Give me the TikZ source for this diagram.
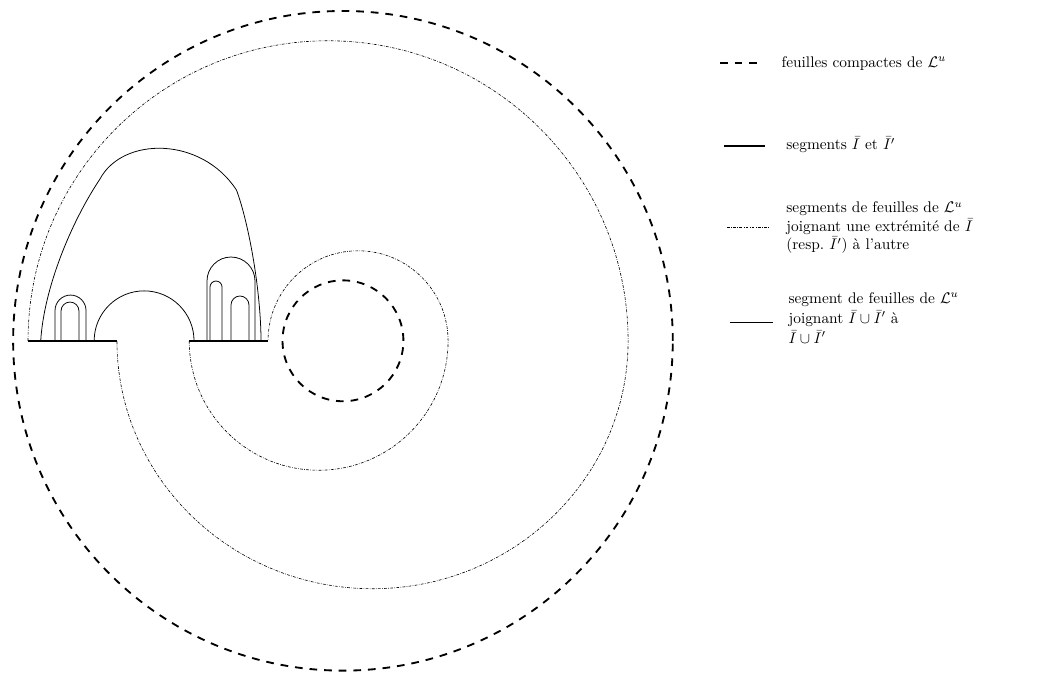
\documentclass[tikz,border=0pt]{standalone}
\usepackage{amsmath,amssymb}
\usepackage{tikz}
\usetikzlibrary{positioning,calc}
\tikzset{
  compact/.style={line width=1.2pt, dash pattern=on 5pt off 4.5pt},
  segbar/.style={line width=1.3pt},
  joinleaf/.style={line width=0.4pt, dash pattern=on 1.8pt off 0.9pt on 0.4pt off 0.9pt},
  leaf/.style={line width=0.5pt},
  legtext/.style={anchor=west, align=left},
}

\begin{document}
\begin{tikzpicture}
\useasboundingbox (0,0) rectangle (24.155,15.411);
% compact leaves
\draw[compact] (7.83,7.63) circle (7.53);
\draw[compact] (7.83,7.63) circle (1.38);
% segments I and I'
\coordinate (Ia) at (0.64,7.63);
\coordinate (Ib) at (2.67,7.63);
\coordinate (Jp) at (4.32,7.63);
\coordinate (Jq) at (6.12,7.63);
\draw[segbar] (Ia) -- (Ib);
\draw[segbar] (Jp) -- (Jq);
% leaves joining one end to the other
\draw[joinleaf] (Ia) arc[start angle=180, end angle=0, radius=6.85]
  arc[start angle=0, end angle=-180, x radius=5.835, y radius=5.66];
\draw[joinleaf] (Jp) arc[start angle=180, end angle=360, radius=2.955]
  arc[start angle=0, end angle=180, radius=2.055];
% leaves joining I u I' to itself
\draw[leaf] (0.93,7.63) .. controls (1.0,8.8) and (1.6,10.3) .. (2.28,11.32)
  .. controls (2.8,12.3) and (4.6,12.3) .. (5.40,11.07)
  .. controls (5.65,10.4) and (5.95,8.9) .. (5.96,7.63);
\draw[leaf] (2.15,7.63) arc[start angle=180, end angle=0, radius=1.14];
\foreach \x/\r/\h in {1.256/0.354/8.32, 1.393/0.205/8.31, 4.726/0.548/8.995, 4.795/0.137/8.858, 5.274/0.205/8.448}
  \draw[leaf] (\x,7.63) -- (\x,\h) arc[start angle=180, end angle=0, radius=\r] -- ({\x+2*\r},7.63);
% legend
\node[legtext] (legcompact) at (17.72,13.97) {feuilles compactes de $\mathcal{L}^u$};
\node[legtext] (legseg) at (17.83,12.10) {segments $\bar I$ et $\bar I'$};
\node[legtext] (legjoin) at (17.83,10.21) {segments de feuilles de $\mathcal{L}^u$\\ joignant une extrémité de $\bar I$\\ (resp.\ $\bar I'$) à l'autre};
\node[legtext] (legleaf) at (17.88,8.15) {segment de feuilles de $\mathcal{L}^u$\\[1pt] joignant $\bar I\cup\bar I'$ à\\[1pt] $\bar I\cup\bar I'$};
\draw[compact] (16.44,13.97) -- (17.31,13.97);
\draw[segbar] (16.53,12.08) -- (17.47,12.08);
\draw[joinleaf] (16.60,10.21) -- (17.58,10.21);
\draw[leaf] (16.67,8.06) -- (17.65,8.06);
\end{tikzpicture}
\end{document}
